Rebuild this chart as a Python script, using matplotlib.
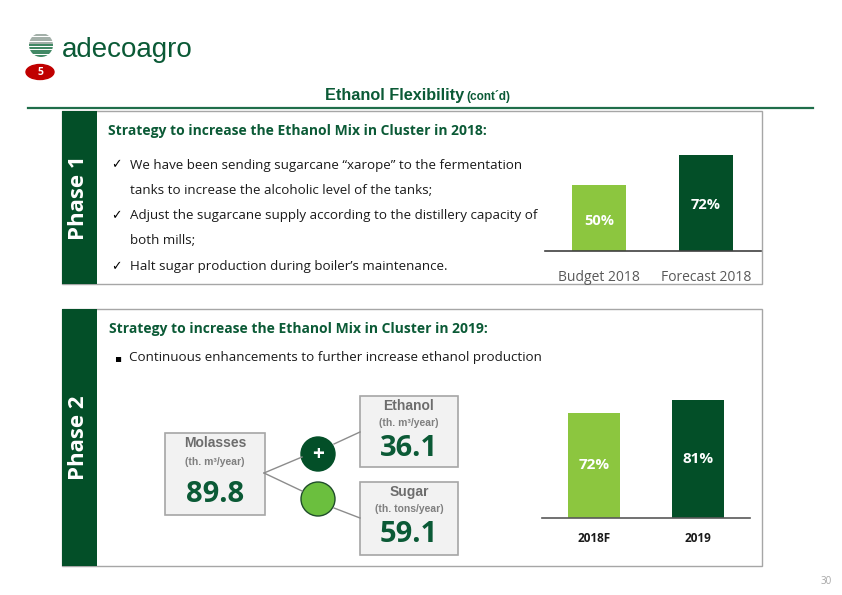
import matplotlib.pyplot as plt
import matplotlib.patches as mpatches
import numpy as np

W, H = 842, 595
DARK = '#034f28'
LIGHT = '#8cc63f'
TXT_GREEN = '#0b5a36'
GREY_EDGE = '#a6a6a6'

# data
phase1_labels = ['Budget 2018', 'Forecast 2018']
phase1_mix = [50, 72]
phase2_labels = ['2018F', '2019']
phase2_mix = [72, 81]
molasses_vol = 89.8
ethanol_vol = 36.1
sugar_vol = 59.1
phase1_title = 'Strategy to increase the Ethanol Mix in Cluster in 2018:'
phase1_lines = ['We have been sending sugarcane \u201cxarope\u201d to the fermentation',
                'tanks to increase the alcoholic level of the tanks;',
                'Adjust the sugarcane supply according to the distillery capacity of',
                'both mills;',
                'Halt sugar production during boiler\u2019s maintenance.']
phase1_checks = [True, False, True, False, True]
phase2_title = 'Strategy to increase the Ethanol Mix in Cluster in 2019:'
phase2_lines = ['Continuous enhancements to further increase ethanol production']

BODY = ['Open Sans', 'DejaVu Sans']
NARROW = ['Liberation Sans', 'DejaVu Sans']

fig = plt.figure(figsize=(W / 100, H / 100), dpi=100)
ax = fig.add_axes([0, 0, 1, 1])
ax.set_xlim(0, W)
ax.set_ylim(H, 0)
ax.axis('off')


def fig_rect(x0, y0, x1, y1):
    # pixel box (top-left origin) -> figure fraction
    return [x0 / W, 1 - y1 / H, (x1 - x0) / W, (y1 - y0) / H]


# ---- header ----
logo = mpatches.Circle((41, 45), 12, facecolor='white', edgecolor='none')
ax.add_patch(logo)
for k, yy in enumerate(np.arange(35, 58, 2.6)):
    c = '#9aa8a0' if yy < 45 else '#2e7d55'
    ln, = ax.plot([28, 54], [yy, yy], color=c, lw=1.3, solid_capstyle='butt')
    ln.set_clip_path(logo)
ax.text(62, 57, 'adecoagro', fontsize=20, color=TXT_GREEN, family=NARROW,
        va='baseline', ha='left')
ax.add_patch(mpatches.Ellipse((40, 72), 28, 15, color='#c00000'))
ax.text(40, 72.5, '5', color='white', fontsize=7.5, weight='bold',
        ha='center', va='center', family=BODY)
ax.plot([28, 813], [108, 108], color='#1f6e4a', lw=1.6)
ax.text(325, 100, 'Ethanol Flexibility', fontsize=11.7, weight='bold',
        color=TXT_GREEN, family=NARROW, va='baseline')
ax.text(466, 100, '(cont\u00b4d)', fontsize=8.5, weight='bold',
        color=TXT_GREEN, family=NARROW, va='baseline')

# ---- phase boxes ----
for (y0, y1, name) in [(111, 284, 'Phase 1'), (309, 566, 'Phase 2')]:
    ax.add_patch(mpatches.Rectangle((62, y0), 700, y1 - y0, facecolor='white',
                                    edgecolor=GREY_EDGE, lw=1.0))
    ax.add_patch(mpatches.Rectangle((62, y0), 35, y1 - y0, facecolor=DARK,
                                    edgecolor='none'))
    ax.text(79, (y0 + y1) / 2, name, rotation=90, color='white',
            fontsize=16, weight='bold', ha='center', va='center', family=BODY)

ax.text(108, 131, phase1_title, fontsize=10, weight='bold', color=TXT_GREEN,
        va='center', family=BODY)
for i, (line, chk) in enumerate(zip(phase1_lines, phase1_checks)):
    yy = 165 + i * 25.3
    if chk:
        ax.text(111, yy, '\u2713', fontsize=9, va='center', family=['DejaVu Sans'])
    ax.text(130, yy, line, fontsize=9.65, va='center', color='#1a1a1a', family=BODY)

ax.text(109, 329, phase2_title, fontsize=10, weight='bold', color=TXT_GREEN,
        va='center', family=BODY)
ax.text(114, 358, '\u25aa', fontsize=7.5, va='center', family=['DejaVu Sans'])
ax.text(129, 358, phase2_lines[0], fontsize=9.65, va='center', color='#1a1a1a',
        family=BODY)

# ---- molasses diagram ----
ax.plot([264, 302], [473, 457], color='#8c8c8c', lw=1)
ax.plot([334, 360], [444, 432], color='#8c8c8c', lw=1)
ax.plot([264, 302], [473, 491], color='#8c8c8c', lw=1)
ax.plot([334, 360], [508, 518], color='#8c8c8c', lw=1)
ax.add_patch(mpatches.Circle((318, 454), 17, facecolor=DARK, edgecolor=DARK))
ax.text(318, 455, '+', color='white', fontsize=15, weight='bold',
        ha='center', va='center', family=BODY)
ax.add_patch(mpatches.Circle((318, 499), 17, facecolor='#6bbf3e', edgecolor='#1f4d2a', lw=1))

boxes = [((165, 433, 265, 515), 'Molasses', '(th. m\u00b3/year)', molasses_vol),
         ((360, 396, 458, 467), 'Ethanol', '(th. m\u00b3/year)', ethanol_vol),
         ((360, 482, 458, 555), 'Sugar', '(th. tons/year)', sugar_vol)]
for (x0, y0, x1, y1), name, unit, val in boxes:
    ax.add_patch(mpatches.Rectangle((x0, y0), x1 - x0, y1 - y0, facecolor='#f2f2f2',
                                    edgecolor=GREY_EDGE, lw=1.2))
    cx = (x0 + x1) / 2
    big = y1 - y0 > 75
    ax.text(cx, y0 + 10, name, ha='center', va='center', fontsize=10,
            weight='bold', color='#6d6d6d', family=NARROW)
    ax.text(cx, y0 + (29 if big else 27), unit, ha='center', va='center', fontsize=7.5,
            weight='bold', color='#7f7f7f', family=NARROW)
    ax.text(cx, y0 + (61 if big else 52), f'{val:.1f}', ha='center', va='center',
            fontsize=21, weight='bold', color=TXT_GREEN, family=BODY)

ax.text(826, 582, '30', fontsize=7, color='#a6a6a6', ha='center', va='center',
        family=BODY)

# ---- bar chart phase 1 ----
b1 = fig.add_axes(fig_rect(545, 140, 761, 251))
b1.patch.set_alpha(0)
bars = b1.bar([0, 1], phase1_mix, width=0.505, color=[LIGHT, DARK])
b1.set_xlim(-0.505, 1.514)
b1.set_ylim(0, 111 / 1.33)
for r, v, f in zip(bars, phase1_mix, [0.45, 0.48]):
    b1.text(r.get_x() + r.get_width() / 2, v * f, f'{v}%', ha='center', va='center',
            color='white', fontsize=10.5, weight='bold', family=BODY)
b1.set_xticks([0, 1])
b1.set_xticklabels(phase1_labels, fontsize=10, color='#595959', family=BODY)
b1.tick_params(length=0, pad=14)
b1.set_yticks([])
for s in ['top', 'right', 'left']:
    b1.spines[s].set_visible(False)
b1.spines['bottom'].set_color('#404040')
b1.spines['bottom'].set_linewidth(1.2)

# ---- bar chart phase 2 ----
b2 = fig.add_axes(fig_rect(542, 385, 750, 518))
b2.patch.set_alpha(0)
bars = b2.bar([0, 1], phase2_mix, width=0.5, color=[LIGHT, DARK])
b2.set_xlim(-0.5, 1.5)
b2.set_ylim(0, 133 / 1.46)
for r, v in zip(bars, phase2_mix):
    b2.text(r.get_x() + r.get_width() / 2, v * 0.5, f'{v}%', ha='center', va='center',
            color='white', fontsize=11, weight='bold', family=BODY)
b2.set_xticks([0, 1])
b2.set_xticklabels(phase2_labels, fontsize=8.5, weight='bold', color='#1a1a1a',
                   family=BODY)
b2.tick_params(length=0, pad=10)
b2.set_yticks([])
for s in ['top', 'right', 'left']:
    b2.spines[s].set_visible(False)
b2.spines['bottom'].set_color('#595959')
b2.spines['bottom'].set_linewidth(1.2)

fig.savefig('out.png', dpi=100)
